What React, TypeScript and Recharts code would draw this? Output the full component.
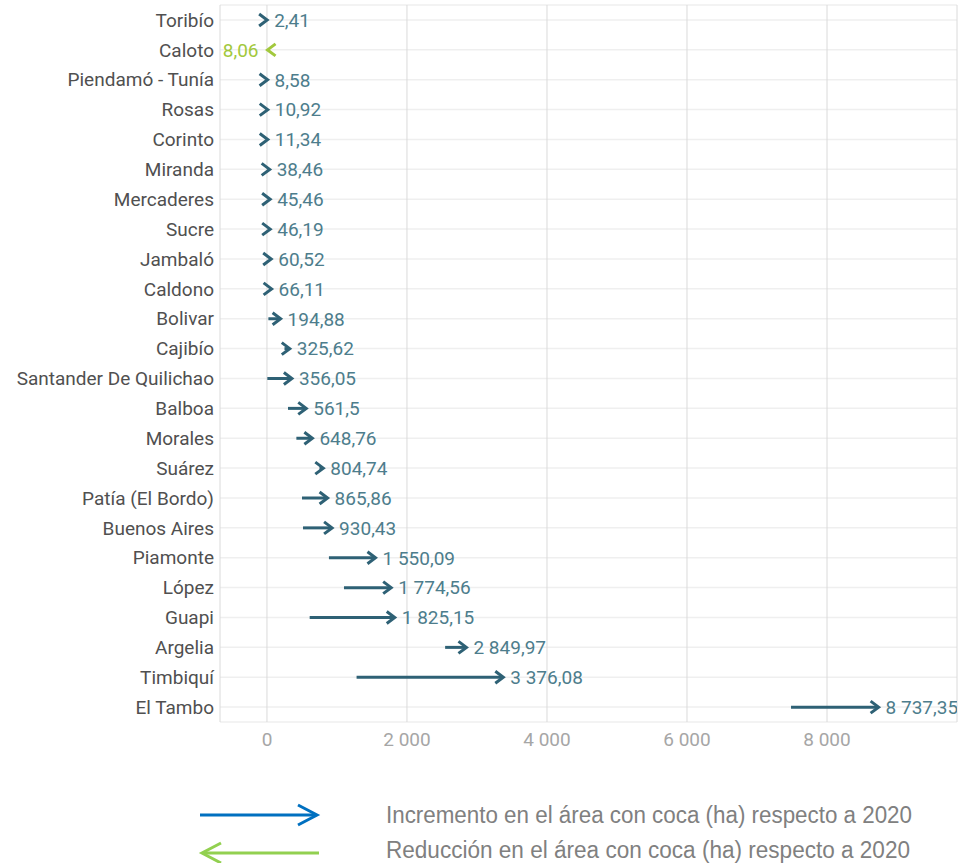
import React from 'react';
import { ComposedChart, Bar, XAxis, YAxis, CartesianGrid } from 'recharts';

// Área con coca por municipio (ha), 2020 -> 2021
const municipios = [
  'Toribío', 'Caloto', 'Piendamó - Tunía', 'Rosas', 'Corinto', 'Miranda', 'Mercaderes', 'Sucre',
  'Jambaló', 'Caldono', 'Bolivar', 'Cajibío', 'Santander De Quilichao', 'Balboa', 'Morales', 'Suárez',
  'Patía (El Bordo)', 'Buenos Aires', 'Piamonte', 'López', 'Guapi', 'Argelia', 'Timbiquí', 'El Tambo',
];
const area2020 = [
  0.5, 14, 3, 5, 6, 22, 30, 28,
  42, 45, 20, 250, 5, 300, 420, 750,
  500, 515, 885, 1100, 610, 2545, 1280, 7486,
];
const area2021 = [
  2.41, 8.06, 8.58, 10.92, 11.34, 38.46, 45.46, 46.19,
  60.52, 66.11, 194.88, 325.62, 356.05, 561.5, 648.76, 804.74,
  865.86, 930.43, 1550.09, 1774.56, 1825.15, 2849.97, 3376.08, 8737.35,
];
const xTicks = [0, 2000, 4000, 6000, 8000];
const leyenda = [
  'Incremento en el área con coca (ha) respecto a 2020',
  'Reducción en el área con coca (ha) respecto a 2020',
];

const AZUL = '#2e6175';
const AZUL_TXT = '#4d7d8c';
const VERDE = '#a2c83c';
const FONT = 'Roboto, sans-serif';
const FONT_LEY = "'Liberation Sans', Arial, sans-serif";

const fmt = (v: number) => {
  const [ent, dec] = String(v).split('.');
  const grouped = ent.replace(/\B(?=(\d{3})+(?!\d))/g, ' ');
  return dec ? `${grouped},${dec}` : grouped;
};
const fmtTick = (v: number) => String(v).replace(/\B(?=(\d{3})+(?!\d))/g, ' ');

const data = municipios.map((m, i) => ({
  municipio: m,
  inicio: area2020[i],
  fin: area2021[i],
  rango: [Math.min(area2020[i], area2021[i]), Math.max(area2020[i], area2021[i])],
}));

const Flecha = (props: any) => {
  const { x, y, width, height, payload } = props;
  const cy = y + height / 2;
  const sube = payload.fin >= payload.inicio;
  const color = sube ? AZUL : VERDE;
  const x0 = sube ? x : x + width;
  const x1 = sube ? x + width : x;
  const back = sube ? -8 : 8;
  return (
    <g>
      <line x1={x0} y1={cy} x2={x1 + (sube ? -1 : 1)} y2={cy} stroke={color} strokeWidth={3} />
      <polyline
        points={`${x1 + back},${cy - 6} ${x1},${cy} ${x1 + back},${cy + 6}`}
        fill="none"
        stroke={color}
        strokeWidth={3}
      />
      <text
        x={sube ? x1 + 7 : x1 - 9}
        y={cy}
        dy="0.36em"
        textAnchor={sube ? 'start' : 'end'}
        fill={sube ? AZUL_TXT : VERDE}
        fontSize={19}
        fontFamily={FONT}
      >
        {fmt(payload.fin)}
      </text>
    </g>
  );
};

const Leyenda = () => (
  <svg width={966} height={80} style={{ position: 'absolute', left: 0, top: 783 }}>
    <line x1={200} y1={32} x2={316} y2={32} stroke="#0070c0" strokeWidth={3} />
    <polyline points="298,22 317,32 298,42" fill="none" stroke="#0070c0" strokeWidth={3} />
    <line x1={203} y1={70} x2={319} y2={70} stroke="#92d050" strokeWidth={3} />
    <polyline points="221,60 202,70 221,80" fill="none" stroke="#92d050" strokeWidth={3} />
    <text x={386} y={40} fill="#808080" fontSize={23.5} fontFamily={FONT_LEY} textLength={526} lengthAdjust="spacingAndGlyphs">
      {leyenda[0]}
    </text>
    <text x={386} y={75} fill="#808080" fontSize={23.5} fontFamily={FONT_LEY} textLength={524} lengthAdjust="spacingAndGlyphs">
      {leyenda[1]}
    </text>
  </svg>
);

export default function App() {
  return (
    <div style={{ position: 'absolute', left: 0, top: 0, width: 966, height: 863, background: '#fff' }}>
      <ComposedChart
        width={966}
        height={863}
        layout="vertical"
        data={data}
        margin={{ top: 5, right: 9, bottom: 111, left: 0 }}
        style={{ fontFamily: FONT }}
      >
        <CartesianGrid vertical={false} stroke="#efefef" strokeWidth={1.5} />
        <CartesianGrid horizontal={false} stroke="#dadada" />
        <XAxis
          type="number"
          domain={[-671, 9857]}
          ticks={xTicks}
          allowDataOverflow
          axisLine={false}
          tickLine={false}
          tickSize={0}
          tickMargin={11}
          height={30}
          tickFormatter={fmtTick}
          tick={{ fill: '#a6a6a6', fontSize: 19, fontFamily: FONT }}
        />
        <YAxis
          type="category"
          dataKey="municipio"
          width={220}
          axisLine={false}
          tickLine={false}
          tickSize={0}
          tickMargin={6}
          interval={0}
          tick={{ fill: '#505050', fontSize: 19, fontFamily: FONT }}
        />
        <Bar dataKey="rango" barSize={12} shape={<Flecha />} isAnimationActive={false} />
      </ComposedChart>
      <Leyenda />
    </div>
  );
}
